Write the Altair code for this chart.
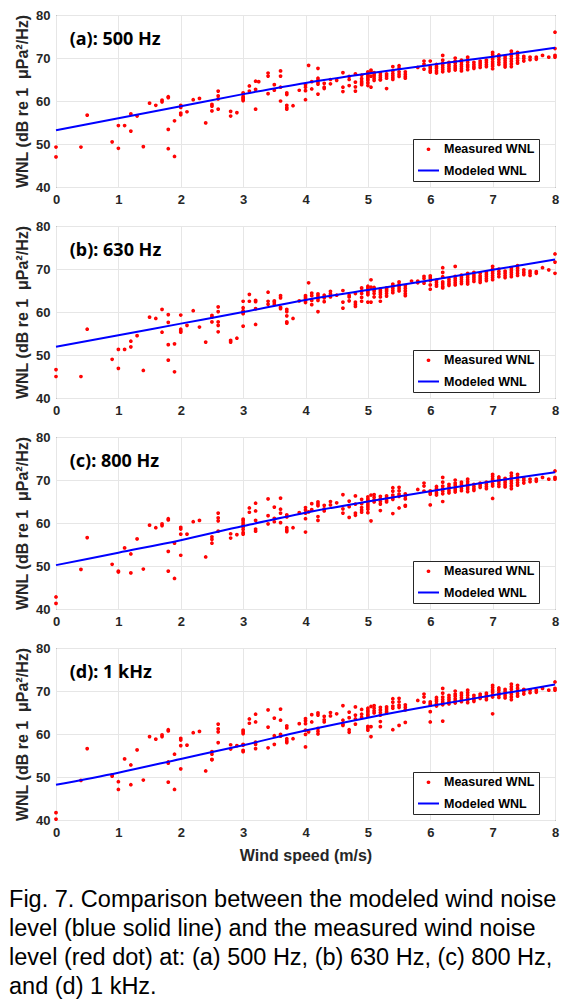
import altair as alt
import pandas as pd

WIND_SPEED_TICKS = [0, 1, 2, 3, 4, 5, 6, 7, 8]
WNL_TICKS = [40, 50, 60, 70, 80]
PANEL_LABELS = ["(a): 500 Hz", "(b): 630 Hz", "(c): 800 Hz", "(d): 1 kHz"]
SERIES = ["Measured WNL", "Modeled WNL"]
SERIES_COLORS = ["#ff0000", "#0000ff"]
CAPTION = [
    "Fig. 7. Comparison between the modeled wind noise",
    "level (blue solid line) and the measured wind noise",
    "level (red dot) at: (a) 500 Hz, (b) 630 Hz, (c) 800 Hz,",
    "and (d) 1 kHz.",
]

# Modeled WNL (blue line), read at integer wind speeds
MODEL_SPEED = [0, 1, 2, 3, 4, 5, 6, 7, 8]
MODEL_A = [53.2, 56.0, 58.8, 61.6, 64.2, 66.4, 68.4, 70.3, 72.4]
MODEL_B = [51.9, 54.6, 57.3, 60.0, 62.8, 65.1, 67.4, 69.8, 72.2]
MODEL_C = [50.2, 53.1, 56.0, 59.3, 62.4, 65.0, 67.4, 69.7, 71.8]
MODEL_D = [48.2, 51.0, 54.2, 57.4, 60.8, 63.8, 66.5, 69.0, 71.5]

# Measured WNL (red dots): (wind speed, [levels])
MEAS_A = [
    (0, [49.3, 47.0]), (0.4, [49.3]), (0.5, [56.7]), (0.9, [50.5]), (1.0, [54.3, 49.0]),
    (1.1, [54.3]), (1.2, [57.0, 53.0]), (1.3, [56.5]), (1.4, [49.4]), (1.5, [59.5]),
    (1.6, [59.0]), (1.7, [60.2, 59.8]), (1.8, [61.0, 60.8, 53.4, 48.9]), (1.9, [55.4, 47.1]),
    (2.0, [59.0, 58.5, 57.2, 56.8]), (2.1, [57.5]), (2.2, [60.3]), (2.3, [60.6]), (2.4, [54.9]),
    (2.5, [59.2, 58.8, 57.7]), (2.6, [62.3, 61.2, 60.5, 58.1]), (2.8, [57.6, 56.5]), (2.9, [57.3]),
    (3.0, [61.9, 61.5, 61.0, 60.7, 60.4, 60.1]), (3.1, [63.5, 62.3]), (3.2, [64.6, 62.7, 58.1]),
    (3.25, [64.5]), (3.4, [66.5, 65.8, 61.7]), (3.5, [63.8, 62.5]), (3.6, [67.0, 65.8, 63.2, 60.0]),
    (3.7, [61.9, 61.5, 59.0, 58.5, 58.1]), (3.8, [58.9]), (3.9, [62.5]), (4.0, [63.8, 63.2, 62.4, 60.3]),
    (4.05, [68.3]), (4.1, [64.5, 62.8]), (4.2, [67.6, 65.3, 64.8, 64.3, 63.9, 61.6]),
    (4.3, [64.1, 63.2, 62.9]), (4.4, [65.0, 64.0]), (4.5, [64.8]), (4.6, [66.6, 63.2, 62.2]),
    (4.7, [65.7, 65.0, 63.6]), (4.8, [66.3, 64.4, 63.3, 62.3]), (4.9, [66.0, 65.2, 64.6, 64.2, 63.8]),
    (5.0, [66.8, 66.4, 66.0, 65.6, 65.2, 64.8, 64.2, 63.6]), (5.05, [67.2, 66.8, 65.8, 63.2]),
    (5.1, [66.6, 66.2, 65.8, 65.3, 64.8]), (5.2, [66.5, 66.0, 65.5, 65.0, 64.9]),
    (5.3, [66.3, 65.8, 65.3, 62.9]), (5.4, [68.0, 67.0, 66.4, 65.9, 65.4, 65.0]),
    (5.5, [68.2, 67.6, 66.8, 66.2, 65.7]), (5.6, [66.8, 66.2, 65.7, 65.3]), (5.8, [67.8]),
    (5.9, [69.3, 68.6, 67.4]), (6.0, [69.3, 68.0, 67.6, 67.1, 66.7]), (6.1, [68.5, 68.0, 67.6, 67.0, 66.5]),
    (6.2, [70.6, 69.5, 68.8, 68.3, 67.8, 67.3, 66.8]), (6.3, [69.0, 68.5, 68.0, 67.5, 67.0]),
    (6.4, [70.0, 69.3, 68.8, 68.2, 67.7, 67.2]), (6.5, [69.5, 69.0, 68.5, 68.0, 67.5, 67.0]),
    (6.6, [70.2, 69.6, 69.0, 68.4, 67.9, 67.3]), (6.7, [69.0, 68.5, 68.0, 67.6]),
    (6.8, [69.3, 68.8, 68.3, 67.8]), (6.9, [69.5, 69.0, 68.5, 68.0]),
    (7.0, [71.3, 70.8, 70.2, 69.7, 69.1, 68.6, 68.1, 67.5]), (7.1, [70.7, 70.2, 69.6, 69.0, 68.5]),
    (7.2, [70.4, 69.9, 69.4, 68.9, 68.4, 67.9]), (7.3, [71.6, 71.0, 70.4, 69.8, 69.2, 68.6, 68.0]),
    (7.4, [71.3, 70.6, 70.0, 69.4, 68.8]), (7.5, [70.4, 69.9, 69.3]), (7.6, [70.2, 69.6]),
    (7.7, [70.2, 69.7]), (7.8, [70.6]), (7.9, [70.2]), (8.0, [76.0, 72.2, 70.6, 70.2]),
]

MEAS_B = [
    (0, [46.6, 45.0]), (0.4, [45.0]), (0.5, [56.0]), (0.9, [49.0]), (1.0, [51.3, 46.9]),
    (1.1, [51.3]), (1.2, [53.2, 51.9]), (1.3, [54.5]), (1.4, [46.4]), (1.5, [58.8]),
    (1.6, [58.5]), (1.7, [60.6, 55.3]), (1.8, [59.4, 57.6, 52.4, 48.8]), (1.9, [52.6, 46.1]),
    (2.0, [59.3, 56.0, 55.6, 55.3]), (2.1, [56.9]), (2.2, [60.3]), (2.3, [56.5]), (2.4, [53.0]),
    (2.5, [59.2, 58.8, 57.7]), (2.6, [61.2, 60.1, 57.7, 56.9, 55.4]), (2.8, [53.4, 53.0]), (2.9, [53.9]),
    (3.0, [62.5, 61.0, 60.3, 59.9, 59.6, 56.7]), (3.1, [64.1, 62.5]), (3.2, [62.7, 62.4, 60.8, 57.1]),
    (3.4, [64.6, 62.5, 61.8]), (3.5, [62.6, 62.3, 61.8]), (3.6, [63.8, 63.3, 61.1, 60.8]),
    (3.7, [60.6, 60.1, 59.1, 57.7, 57.4]), (3.8, [58.5]), (3.9, [62.6]),
    (4.0, [63.8, 63.4, 63.0, 62.6, 62.2]), (4.05, [66.8]), (4.1, [64.4, 63.8, 62.7, 61.7]),
    (4.2, [64.2, 63.7, 63.2, 62.7, 60.1]), (4.3, [63.9, 63.3, 62.4]), (4.4, [64.8, 64.2, 63.5]),
    (4.5, [63.9]), (4.6, [65.0, 62.3, 60.9]), (4.7, [63.9, 63.5, 62.6]), (4.8, [64.3, 62.3, 61.8, 61.3]),
    (4.9, [65.6, 64.9, 64.3, 63.4, 62.5]), (5.0, [66.0, 65.6, 65.2, 64.8, 64.4, 64.0, 62.3]),
    (5.05, [67.5, 65.8, 62.3]), (5.1, [65.7, 65.3, 64.9, 64.3, 63.5]),
    (5.2, [65.4, 65.0, 64.6, 64.1, 63.5, 62.5]), (5.3, [65.6, 65.2, 64.8, 64.3, 63.7]),
    (5.4, [66.5, 66.0, 65.5, 65.0, 64.5]), (5.5, [67.0, 66.4, 65.9, 65.4, 64.9]),
    (5.6, [66.1, 65.5, 64.9, 64.3, 63.8]), (5.7, [67.2]), (5.8, [67.2, 66.8]), (5.9, [68.3, 67.8, 66.7]),
    (6.0, [68.4, 67.9, 67.3, 66.3, 65.3]), (6.1, [67.4, 66.9, 66.4, 66.0]),
    (6.2, [70.3, 69.2, 68.2, 67.0, 66.5, 66.0, 65.6]), (6.3, [67.6, 67.1, 66.6, 66.2]),
    (6.4, [70.6, 68.3, 67.8, 67.3, 66.8, 66.3]), (6.5, [68.6, 68.1, 67.6, 67.1, 66.6]),
    (6.6, [69.0, 68.5, 68.0, 67.5, 67.0, 66.5]), (6.7, [69.2, 68.6, 68.1, 67.6, 67.1]),
    (6.8, [69.0, 68.4, 67.9, 67.4, 66.9]), (6.9, [69.3, 68.8, 68.3, 67.8, 67.3]),
    (7.0, [70.6, 70.0, 69.5, 69.0, 68.5, 68.0, 67.5]), (7.1, [70.0, 69.4, 68.8, 68.2]),
    (7.2, [69.5, 69.0, 68.5, 68.0]), (7.3, [70.2, 69.7, 69.2, 68.7, 68.2]),
    (7.4, [70.8, 70.2, 69.6, 69.0, 68.5]), (7.5, [69.8, 69.2, 68.7]), (7.6, [69.5, 69.0, 68.5]),
    (7.7, [69.4, 69.0]), (7.8, [70.3]), (7.9, [69.8]), (8.0, [73.5, 71.6, 69.0]),
]

MEAS_C = [
    (0, [42.8, 41.3]), (0.4, [49.2]), (0.5, [56.6]), (0.9, [50.4]), (1.0, [48.8, 48.6]),
    (1.1, [54.2]), (1.2, [52.8, 48.4]), (1.3, [56.3]), (1.4, [49.3]), (1.5, [59.5]),
    (1.6, [58.9]), (1.7, [59.8, 59.4]), (1.8, [61.0, 60.7, 53.4, 48.8]), (1.9, [55.3, 47.1]),
    (2.0, [59.0, 58.6, 57.4, 52.5]), (2.1, [57.4]), (2.2, [60.3]), (2.3, [60.6]), (2.4, [52.1]),
    (2.5, [56.8, 56.2, 55.3]), (2.6, [62.3, 61.2, 60.5, 58.1]), (2.8, [57.5, 56.5]), (2.9, [57.3]),
    (3.0, [60.9, 60.5, 60.0, 59.5, 59.0, 58.5, 57.8, 57.4]), (3.1, [63.5, 62.5]),
    (3.2, [64.6, 62.8, 60.6, 58.6, 58.1]), (3.4, [65.6, 61.7, 59.8]), (3.5, [63.7, 61.1, 60.3]),
    (3.6, [65.8, 63.2, 62.3, 60.1]), (3.7, [61.9, 61.4, 58.9, 58.4, 58.0]), (3.8, [58.9]),
    (3.9, [62.4]), (4.0, [63.6, 63.0, 62.3, 61.0, 57.9]), (4.05, [62.6]), (4.1, [64.5, 63.1]),
    (4.2, [64.9, 64.4, 64.0, 61.5, 60.6]), (4.3, [64.1, 63.3, 62.8]), (4.4, [65.0, 64.2]),
    (4.5, [64.7]), (4.6, [66.6, 63.3, 62.3]), (4.7, [65.1, 63.8, 61.3]), (4.8, [66.3, 64.4, 62.3, 61.8]),
    (4.9, [65.5, 64.5, 63.6, 63.0, 62.5]), (5.0, [66.1, 65.6, 65.2, 64.7, 64.2, 63.7, 63.2, 62.4]),
    (5.05, [66.5, 60.5]), (5.1, [66.6, 66.0, 65.4, 64.9]), (5.2, [66.2, 65.6, 65.0, 64.4, 62.9]),
    (5.3, [66.3, 65.8, 65.3, 64.9]), (5.4, [68.2, 67.4, 66.5, 66.0, 65.5, 62.2]),
    (5.5, [68.3, 67.5, 66.7, 66.2, 63.5]), (5.6, [66.8, 66.2, 65.6, 64.1, 63.9]), (5.8, [67.8]),
    (5.9, [69.3, 68.6, 67.4]), (6.0, [67.5, 67.1, 66.7, 64.2]), (6.1, [68.5, 68.0, 67.6, 67.0, 66.5]),
    (6.2, [70.6, 69.5, 68.6, 68.0, 67.4, 66.8, 65.0]), (6.3, [69.0, 68.5, 68.0, 67.5, 67.0]),
    (6.4, [70.0, 69.3, 68.8, 68.2, 67.7, 67.2]), (6.5, [69.5, 69.0, 68.5, 68.0, 67.5]),
    (6.6, [70.2, 69.6, 69.0, 68.4, 67.9, 67.3]), (6.7, [69.0, 68.5, 68.0, 67.6]),
    (6.8, [69.3, 68.8, 68.3]), (6.9, [69.5, 69.0, 68.5, 68.0]),
    (7.0, [71.3, 70.8, 70.2, 69.7, 69.1, 68.6, 65.7]), (7.1, [70.7, 70.2, 69.6, 69.0, 68.5]),
    (7.2, [70.4, 69.9, 69.4, 68.9, 68.4]), (7.3, [71.6, 71.0, 70.4, 69.8, 69.2, 68.6, 68.0]),
    (7.4, [71.3, 70.6, 70.0, 69.4, 68.8]), (7.5, [70.4, 69.9, 69.3]), (7.6, [70.2, 69.6]),
    (7.7, [70.2, 69.7]), (7.8, [70.6]), (7.9, [70.2]), (8.0, [72.1, 70.6, 70.2]),
]

MEAS_D = [
    (0, [41.7, 40.2]), (0.4, [49.2]), (0.5, [56.6]), (0.9, [50.5, 50.2]), (1.0, [48.9, 47.1]),
    (1.1, [54.2]), (1.2, [52.8, 48.2]), (1.3, [56.3]), (1.4, [49.3]), (1.5, [59.4]),
    (1.6, [58.8]), (1.7, [59.8, 59.4]), (1.8, [61.0, 60.7, 53.5, 53.2, 48.8]), (1.9, [55.3, 47.1]),
    (2.0, [59.0, 58.6, 57.3, 51.9]), (2.1, [57.4]), (2.2, [60.3]), (2.3, [60.6]), (2.4, [51.4]),
    (2.5, [55.9, 55.3, 54.1, 54.0]), (2.6, [62.3, 61.2, 60.5, 58.0]), (2.8, [57.5, 56.5]), (2.9, [57.3]),
    (3.0, [60.9, 60.5, 60.1, 57.6, 57.4, 56.2, 55.9]), (3.1, [63.5, 62.5]),
    (3.2, [64.6, 62.8, 58.1, 57.6, 56.6]), (3.4, [65.6, 61.6, 56.8]), (3.5, [63.7, 59.6, 57.6]),
    (3.6, [65.8, 63.2, 59.9, 59.5]), (3.7, [61.9, 61.4, 58.9, 58.4, 58.0]), (3.8, [58.9]),
    (3.9, [62.4]), (4.0, [63.6, 63.1, 62.4, 60.9, 59.9, 57.0]), (4.05, [60.5]), (4.1, [64.5, 62.8]),
    (4.2, [64.9, 64.4, 61.3, 60.6, 60.0]), (4.3, [64.1, 63.3, 62.8]), (4.4, [65.0, 64.2]),
    (4.5, [64.7]), (4.6, [66.6, 63.2, 62.3, 62.0]), (4.7, [65.1, 63.8, 61.0, 60.4]),
    (4.8, [66.3, 64.4, 63.5, 62.3]), (4.9, [65.7, 64.6, 63.9]),
    (5.0, [66.0, 65.5, 65.1, 64.6, 64.2, 61.8, 61.4, 60.9]), (5.05, [66.4, 61.7, 59.4]),
    (5.1, [66.6, 66.0, 65.4, 64.9]), (5.2, [66.2, 65.6, 65.0, 64.4, 62.9, 61.7]),
    (5.3, [66.3, 65.8, 65.3, 64.9]), (5.4, [68.2, 67.4, 66.5, 66.0, 61.0]),
    (5.5, [68.3, 67.5, 66.7, 66.2, 62.0]), (5.6, [66.8, 66.2, 65.6, 62.7]), (5.8, [67.8]),
    (5.9, [69.3, 68.6, 67.4]), (6.0, [67.5, 67.1, 66.7, 65.2, 62.8]), (6.1, [68.5, 68.0, 67.6, 67.0, 66.5]),
    (6.2, [70.6, 69.5, 68.6, 68.0, 67.4, 66.8, 63.0]), (6.3, [69.0, 68.5, 68.0, 67.5, 67.0]),
    (6.4, [70.0, 69.3, 68.8, 68.2, 67.7, 67.2]), (6.5, [69.5, 69.0, 68.5, 68.0, 67.5]),
    (6.6, [70.2, 69.6, 69.0, 68.4, 67.9, 67.3]), (6.7, [69.0, 68.5, 68.0, 67.6]),
    (6.8, [69.3, 68.8, 68.3]), (6.9, [69.5, 69.0, 68.5, 68.0]),
    (7.0, [71.3, 70.8, 70.2, 69.7, 69.1, 68.6, 64.7]), (7.1, [70.7, 70.2, 69.6, 69.0, 68.5]),
    (7.2, [70.4, 69.9, 69.4, 68.9, 68.4]), (7.3, [71.6, 71.0, 70.4, 69.8, 69.2, 68.6, 68.0]),
    (7.4, [71.3, 70.6, 70.0, 69.4, 68.8]), (7.5, [70.4, 69.9, 69.3]), (7.6, [70.2, 69.6]),
    (7.7, [70.2, 69.7]), (7.8, [70.6]), (7.9, [70.2]), (8.0, [72.1, 70.6, 70.2]),
]

AXIS_FONT = "Liberation Sans, Arial, Helvetica, sans-serif"
AXIS_COLOR = "#262626"
PANEL_W, PANEL_H = 499, 172


def panel(meas, model, label, last):
    pts = pd.DataFrame([(x, y) for x, ys in meas for y in ys], columns=["speed", "wnl"])
    pts["series"] = SERIES[0]
    line = pd.DataFrame({"speed": MODEL_SPEED, "wnl": model})
    lab = pd.DataFrame({"label": [label]})

    x_axis = alt.Axis(values=WIND_SPEED_TICKS, title="Wind speed (m/s)" if last else None,
                      format="d")
    x = alt.X("speed:Q", scale=alt.Scale(domain=[0, 8], nice=False), axis=x_axis)
    y = alt.Y("wnl:Q", scale=alt.Scale(domain=[40, 80], nice=False),
              axis=alt.Axis(values=WNL_TICKS, title="WNL (dB re 1 \u00a0\u03bcPa\u00b2/Hz)"))

    legend = alt.Legend(title=None, orient="none", legendX=357, legendY=124)
    points = alt.Chart(pts).mark_point(filled=False, strokeWidth=2, opacity=1).encode(
        x=x, y=y,
        color=alt.Color("series:N", scale=alt.Scale(domain=SERIES, range=SERIES_COLORS), legend=legend),
        shape=alt.Shape("series:N", scale=alt.Scale(domain=SERIES, range=["circle", "stroke"]), legend=legend),
        size=alt.Size("series:N", scale=alt.Scale(type="point", padding=0, domain=SERIES, range=[3, 441]),
                      legend=legend),
    )
    model_line = alt.Chart(line).mark_line(color=SERIES_COLORS[1], strokeWidth=2, interpolate="monotone").encode(
        x="speed:Q", y="wnl:Q"
    )
    text = alt.Chart(lab).mark_text(align="left", baseline="middle", font="Noto Sans",
                                    fontWeight="bold", fontSize=18, color="#000000").encode(
        x=alt.datum(0.22), y=alt.datum(74.2), text="label:N"
    )
    return alt.layer(points, model_line, text).properties(width=PANEL_W, height=PANEL_H)


panels = [
    panel(MEAS_A, MODEL_A, PANEL_LABELS[0], False),
    panel(MEAS_B, MODEL_B, PANEL_LABELS[1], False),
    panel(MEAS_C, MODEL_C, PANEL_LABELS[2], False),
    panel(MEAS_D, MODEL_D, PANEL_LABELS[3], True),
]

chart = (
    alt.vconcat(*panels, spacing=39, bounds="flush")
    .resolve_scale(color="independent", shape="independent", size="independent")
    .resolve_legend(color="independent", shape="independent", size="independent")
    .properties(
        padding={"left": 1, "top": 0, "right": 5, "bottom": 5},
        title=alt.TitleParams(
            text=CAPTION, orient="bottom", anchor="start", frame="bounds",
            font="Liberation Sans, Arial, sans-serif",
            fontSize=23.5, fontWeight="normal", lineHeight=29, offset=24, dx=-5, color="#000000",
        ),
    )
    .configure_view(stroke=AXIS_COLOR, strokeWidth=1)
    .configure_axis(
        labelFont=AXIS_FONT, labelFontWeight="bold", labelFontSize=13, labelColor=AXIS_COLOR,
        titleFont=AXIS_FONT, titleFontWeight="bold", titleFontSize=16, titleColor=AXIS_COLOR,
        domain=False, ticks=False, labelPadding=6, gridColor="#e6e6e6", gridWidth=1,
    )
    .configure_axisY(titlePadding=5)
    .configure_axisX(titlePadding=8, labelFlush=False)
    .configure_legend(
        strokeColor=AXIS_COLOR, fillColor="#ffffff", padding=4, rowPadding=3,
        labelFont=AXIS_FONT, labelFontWeight="bold", labelFontSize=12.5, labelColor="#000000",
        symbolStrokeWidth=2, labelOffset=4, cornerRadius=0,
    )
)

chart.save("out.html", embed_options={"renderer": "svg", "actions": False})
